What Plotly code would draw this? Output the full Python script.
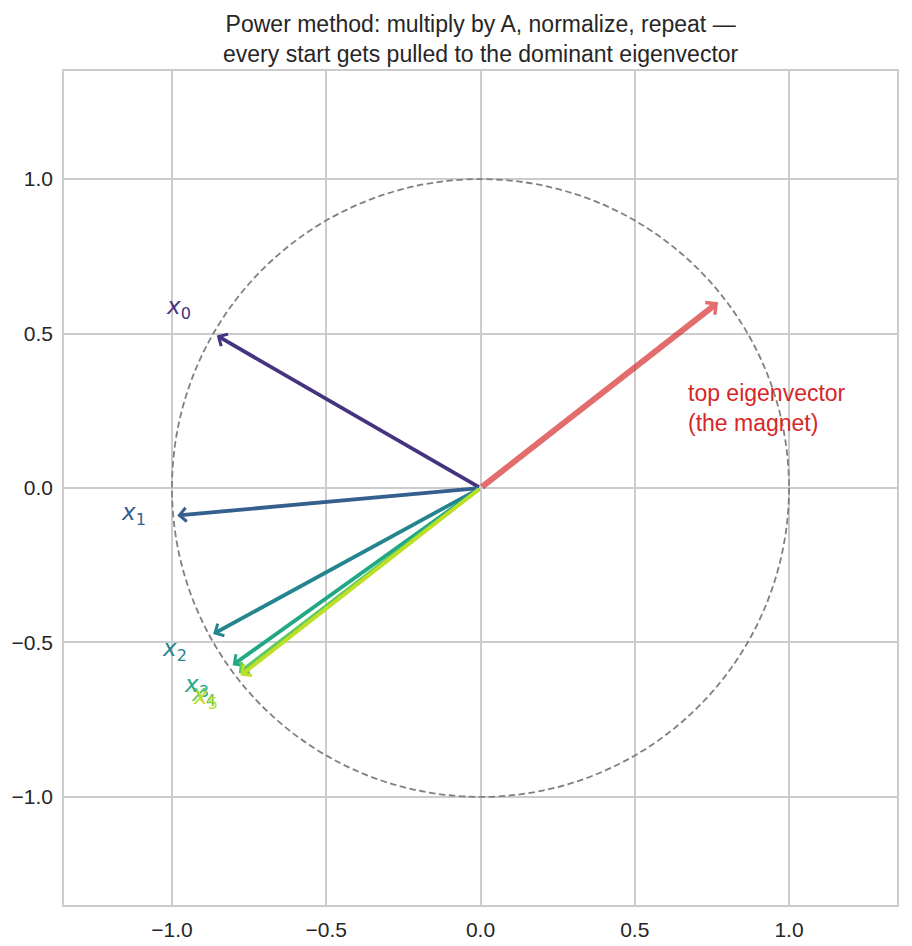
import plotly.graph_objects as go

# ---- data ----
iterate_names = ["0", "1", "2", "3", "4", "5"]
iterate_x = [-0.866, -0.996, -0.878, -0.814, -0.794, -0.788]
iterate_y = [0.500, -0.090, -0.479, -0.581, -0.607, -0.615]
iterate_colors = ["#46337f", "#355f8d", "#25858e", "#22a884", "#5ec962", "#bddf26"]
eig_vec = [0.788, 0.615]
eig_label = "top eigenvector<br>(the magnet)"
tick_vals = [-1.0, -0.5, 0.0, 0.5, 1.0]
tick_text = ["\u22121.0", "\u22120.5", "0.0", "0.5", "1.0"]
label_scale = 1.13
title_text = ("Power method: multiply by A, normalize, repeat \u2014<br>"
              "every start gets pulled to the dominant eigenvector")

fig = go.Figure()
# invisible trace so axes exist
fig.add_trace(go.Scatter(x=[0], y=[0], mode="markers", marker=dict(opacity=0), hoverinfo="skip", showlegend=False))

# unit circle
fig.add_shape(type="circle", xref="x", yref="y", x0=-1, y0=-1, x1=1, y1=1,
              line=dict(color="#808080", width=1.8, dash="6.5px,3.5px"), layer="above")

annotations = []
# eigenvector arrow
annotations.append(dict(x=eig_vec[0], y=eig_vec[1], ax=0, ay=0, xref="x", yref="y", axref="x", ayref="y",
                        showarrow=True, arrowhead=4, arrowsize=0.5, arrowwidth=6, standoff=7,
                        arrowcolor="rgba(214,39,40,0.68)", text=""))
annotations.append(dict(x=0.665, y=0.258, xref="x", yref="y", text=eig_label, showarrow=False,
                        xanchor="left", yanchor="middle", align="left",
                        font=dict(family="Liberation Sans, Arial", size=23, color="#d62728")))

for name, vx, vy, col in zip(iterate_names, iterate_x, iterate_y, iterate_colors):
    annotations.append(dict(x=vx, y=vy, ax=0, ay=0, xref="x", yref="y", axref="x", ayref="y",
                            showarrow=True, arrowhead=4, arrowsize=0.7, arrowwidth=3.8, standoff=4,
                            arrowcolor=col, text=""))
    annotations.append(dict(x=vx * label_scale, y=vy * label_scale, xref="x", yref="y",
                            text="<i>x</i><sub>" + name + "</sub>", showarrow=False,
                            xanchor="center", yanchor="middle", yshift=5,
                            font=dict(family="DejaVu Sans", size=23, color=col)))

# title
annotations.append(dict(x=0.5, y=1, xref="paper", yref="paper", xanchor="center", yanchor="bottom",
                        yshift=2, text=title_text, showarrow=False,
                        font=dict(family="Liberation Sans, Arial", size=23, color="#262626")))

axis_common = dict(
    tickvals=tick_vals, ticktext=tick_text, showgrid=True, gridcolor="#cccccc", gridwidth=1.6,
    zeroline=False, showline=True, linecolor="#cccccc", linewidth=1.6, mirror=True,
    ticks="outside", ticklen=5, tickcolor="rgba(0,0,0,0)", automargin=False,
    tickfont=dict(family="Liberation Sans, Arial", size=21, color="#262626"),
)

fig.update_layout(
    width=912, height=946,
    margin=dict(l=64, r=15, t=71, b=41),
    plot_bgcolor="white", paper_bgcolor="white",
    xaxis=dict(range=[-1.35, 1.35], **axis_common),
    yaxis=dict(range=[-1.35, 1.35], **axis_common),
    annotations=annotations,
    showlegend=False,
)

fig.write_html("out.html")
